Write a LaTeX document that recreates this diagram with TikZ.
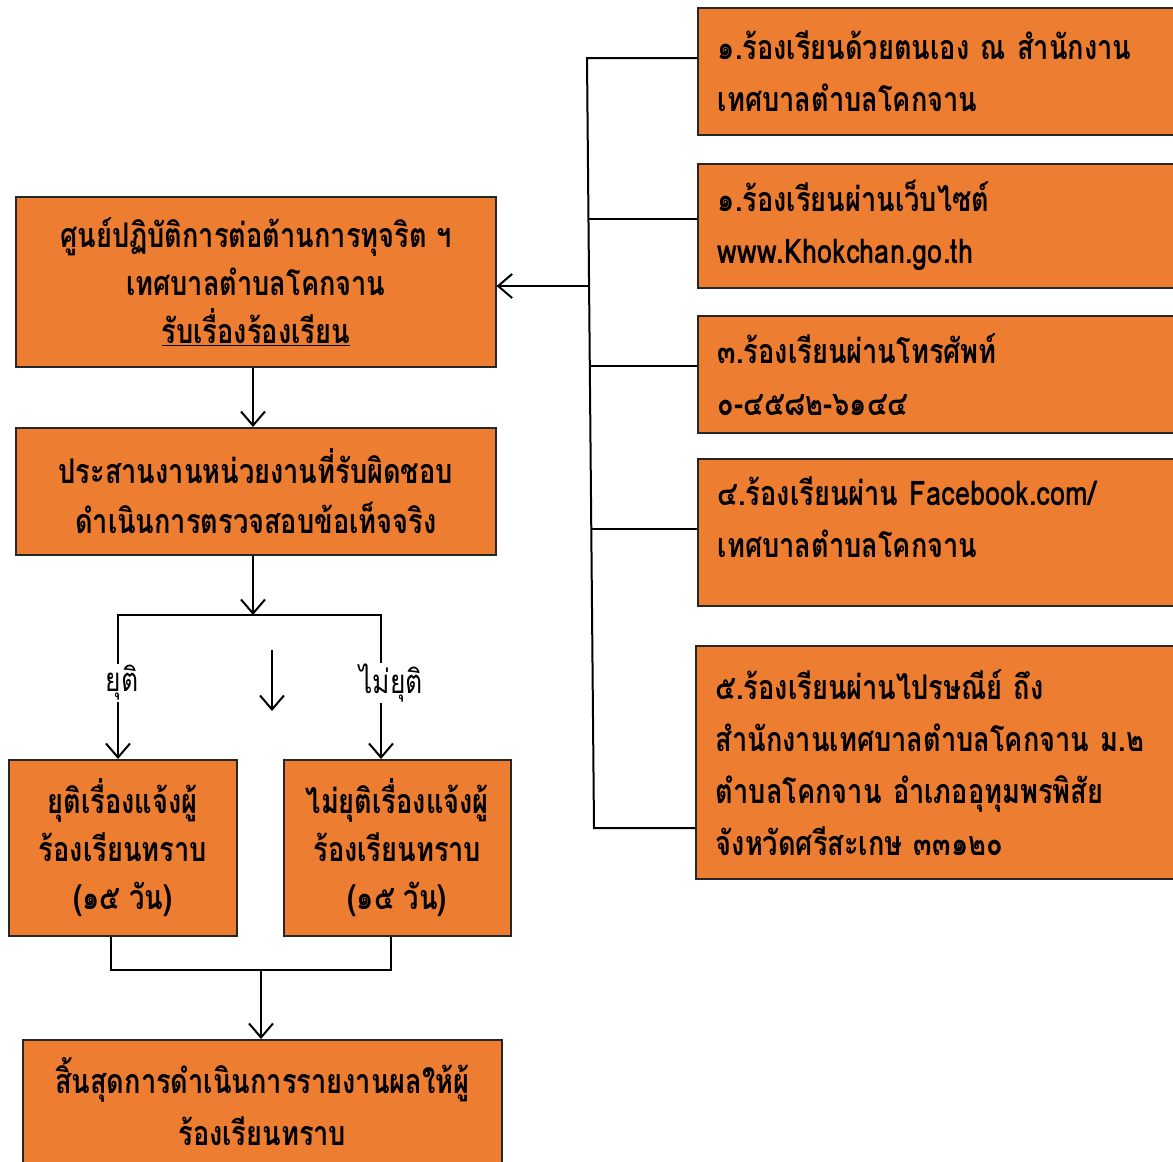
\documentclass[tikz,border=0pt]{standalone}
\usepackage{fontspec}
\newfontfamily\thaifont[Script=Thai, FakeStretch=0.8]{Loma}
\usetikzlibrary{arrows.meta}
\definecolor{boxorange}{RGB}{237,125,49}
\tikzset{
  box/.style={draw=black!85, fill=boxorange, line width=1.6pt, inner sep=0pt, anchor=north west,
    font=\thaifont\bfseries\fontsize{34}{48}\selectfont},
  midbox/.style={box, align=center},
  sidebox/.style={box, align=left, text width=450pt, inner xsep=20pt,
    font=\thaifont\bfseries\fontsize{34}{52}\selectfont},
  conn/.style={line width=2pt},
  arr/.style={conn, -{Straight Barb[length=14pt,width=24pt]}},
  branchlbl/.style={font=\thaifont\fontsize{33}{36}\selectfont, inner sep=1pt}
}
\begin{document}
\begin{tikzpicture}[x=1pt, y=-1pt]
  \useasboundingbox (0,0) rectangle (1173,1162);
  % left column
  \node[midbox, minimum width=480pt, minimum height=170pt] (recv) at (15,196)
    {ศูนย์ปฏิบัติการต่อต้านการทุจริต ฯ\\เทศบาลตำบลโคกจาน\\\underline{รับเรื่องร้องเรียน}};
  \node[midbox, minimum width=480pt, minimum height=127pt,
    font=\thaifont\bfseries\fontsize{34}{50}\selectfont] (check) at (15,427)
    {ประสานงานหน่วยงานที่รับผิดชอบ\\ดำเนินการตรวจสอบข้อเท็จจริง};
  \node[midbox, minimum width=228pt, minimum height=176pt] (stopC) at (8,759)
    {ยุติเรื่องแจ้งผู้\\ร้องเรียนทราบ\\(๑๕ วัน)};
  \node[midbox, minimum width=227pt, minimum height=176pt] (goD) at (283,759)
    {ไม่ยุติเรื่องแจ้งผู้\\ร้องเรียนทราบ\\(๑๕ วัน)};
  \node[midbox, minimum width=479pt, minimum height=124pt,
    font=\thaifont\bfseries\fontsize{34}{52}\selectfont] (done) at (22,1039)
    {สิ้นสุดการดำเนินการรายงานผลให้ผู้\\ร้องเรียนทราบ};
  \node[branchlbl] (lblL) at (122,683) {ยุติ};
  \node[branchlbl] (lblR) at (391,683) {ไม่ยุติ};
  % right column
  \node[sidebox, minimum height=127pt] (r1) at (697,7)
    {๑.ร้องเรียนด้วยตนเอง ณ สำนักงาน\\เทศบาลตำบลโคกจาน};
  \node[sidebox, minimum height=124pt] (r2) at (697,163)
    {๑.ร้องเรียนผ่านเว็บไซต์\\www.Khokchan.go.th};
  \node[sidebox, minimum height=117pt] (r3) at (697,315)
    {๓.ร้องเรียนผ่านโทรศัพท์\\๐-๔๕๘๒-๖๑๔๔};
  \node[sidebox, minimum height=147pt] (r4) at (697,458)
    {๔.ร้องเรียนผ่าน Facebook.com/\\เทศบาลตำบลโคกจาน\\[-22pt]\mbox{}};
  \node[sidebox, minimum height=233pt] (r5) at (695,645)
    {๕.ร้องเรียนผ่านไปรษณีย์ ถึง\\สำนักงานเทศบาลตำบลโคกจาน ม.๒\\ตำบลโคกจาน อำเภออุทุมพรพิสัย\\จังหวัดศรีสะเกษ ๓๓๑๒๐};

  % flow down the left
  \coordinate (split) at (253,615);
  \coordinate (bl) at (118,615);
  \coordinate (br) at (381,615);
  \draw[arr] (recv.south -| split) -- (check.north -| split);
  \draw[arr] (check.south -| split) -- (split);
  \draw[conn] (lblL.north -| bl) -- (bl) -- (br) -- (lblR.north -| br);
  \draw[arr] (lblL.south -| bl) -- (stopC.north -| bl);
  \draw[arr] (lblR.south -| br) -- (goD.north -| br);
  \coordinate (strayTop) at (272,650);
  \coordinate (strayEnd) at (272,711);
  \draw[arr] (strayTop) -- (strayEnd);
  \coordinate (mL) at (111,970);
  \coordinate (mR) at (391,970);
  \coordinate (join) at (261,970);
  \draw[conn] (stopC.south -| mL) -- (mL) -- (mR) -- (goD.south -| mR);
  \draw[arr] (join) -- (done.north -| join);

  % bus on the right
  \coordinate (bus1) at (587,58);
  \coordinate (bus5) at (594,828);
  \coordinate (busA) at (589,286);
  \draw[conn] (r1.west |- bus1) -- (bus1) -- (bus5) -- (r5.west |- bus5);
  \foreach \n/\x/\y in {2/588.5/219,3/589.8/366,4/591.3/529}
  {
    \coordinate (bus\n) at (\x,\y);
    \draw[conn] (bus\n) -- (r\n.west |- bus\n);
  }
  \draw[arr] (busA) -- (recv.east |- busA);
\end{tikzpicture}
\end{document}
